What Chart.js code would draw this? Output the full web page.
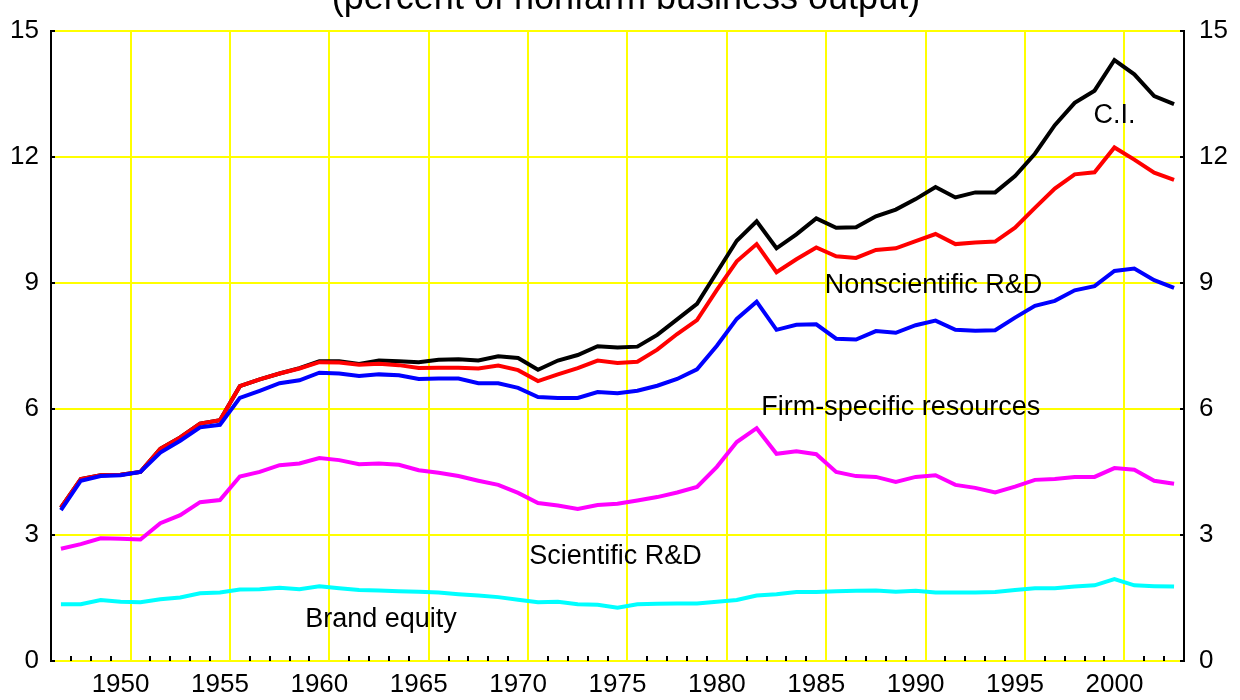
<!DOCTYPE html>
<html>
<head>
<meta charset="utf-8">
<script src="https://cdn.jsdelivr.net/npm/chart.js@4/dist/chart.umd.min.js"></script>
<style>
  body { margin: 0; background: #fff; overflow: hidden; }
  #wrap { position: relative; width: 1240px; height: 700px; overflow: hidden; }
  #title {
    position: absolute; left: 0; top: -21px; width: 1252px;
    text-align: center; font: 36px/36px "Liberation Sans", Arial, sans-serif; color: #000;
  }
</style>
</head>
<body>
<div id="wrap">
  <div id="title">(percent of nonfarm business output)</div>
  <canvas id="chart" width="1240" height="700"></canvas>
</div>
<script>
// 年份 1947-2003
const years = [];
for (let y = 1947; y <= 2003; y++) years.push(y);

// 各层累计值
const brandEquity = [1.35, 1.35, 1.45, 1.41, 1.40, 1.47, 1.51, 1.61, 1.63, 1.70, 1.71, 1.74, 1.71,
  1.78, 1.73, 1.69, 1.68, 1.66, 1.65, 1.63, 1.59, 1.56, 1.52,
  1.46, 1.40, 1.41, 1.35, 1.34, 1.27, 1.35, 1.36, 1.37, 1.37,
  1.41, 1.45, 1.56, 1.59, 1.64, 1.64, 1.66, 1.67, 1.68, 1.65,
  1.67, 1.63, 1.63, 1.63, 1.64, 1.69, 1.73, 1.73, 1.77, 1.80,
  1.95, 1.80, 1.78, 1.77];
const scientificRD = [2.67, 2.78, 2.92, 2.91, 2.89, 3.28, 3.47, 3.78, 3.83, 4.39, 4.50, 4.66, 4.70,
  4.83, 4.78, 4.68, 4.70, 4.67, 4.54, 4.48, 4.40, 4.29, 4.19,
  4.00, 3.76, 3.70, 3.62, 3.71, 3.74, 3.82, 3.90, 4.01, 4.14,
  4.62, 5.21, 5.54, 4.93, 4.99, 4.92, 4.50, 4.40, 4.38, 4.26,
  4.38, 4.42, 4.19, 4.12, 4.01, 4.15, 4.31, 4.33, 4.38, 4.38,
  4.59, 4.55, 4.29, 4.22];
const firmSpecific = [3.59, 4.29, 4.40, 4.42, 4.50, 4.96, 5.24, 5.56, 5.62, 6.26, 6.43, 6.61, 6.68,
  6.86, 6.84, 6.78, 6.82, 6.80, 6.71, 6.72, 6.72, 6.61, 6.61,
  6.50, 6.28, 6.26, 6.26, 6.40, 6.37, 6.43, 6.55, 6.71, 6.94,
  7.50, 8.14, 8.55, 7.88, 8.00, 8.01, 7.67, 7.65, 7.85, 7.81,
  7.99, 8.10, 7.88, 7.86, 7.87, 8.17, 8.45, 8.57, 8.82, 8.92,
  9.28, 9.34, 9.06, 8.88];
const nonscientificRD = [3.65, 4.33, 4.42, 4.43, 4.50, 5.05, 5.32, 5.65, 5.73, 6.54, 6.70, 6.84, 6.96,
  7.11, 7.10, 7.05, 7.07, 7.04, 6.97, 6.98, 6.98, 6.96, 7.03,
  6.92, 6.66, 6.82, 6.97, 7.15, 7.09, 7.12, 7.41, 7.78, 8.11,
  8.83, 9.51, 9.92, 9.25, 9.56, 9.84, 9.63, 9.59, 9.78, 9.82,
  9.99, 10.16, 9.92, 9.96, 9.98, 10.31, 10.78, 11.24, 11.58, 11.63,
  12.22, 11.93, 11.62, 11.45];
const ciTotal = [3.65, 4.33, 4.42, 4.43, 4.50, 5.05, 5.32, 5.65, 5.73, 6.54, 6.70, 6.84, 6.97,
  7.13, 7.13, 7.07, 7.15, 7.13, 7.11, 7.17, 7.18, 7.15, 7.25,
  7.21, 6.93, 7.15, 7.28, 7.49, 7.46, 7.48, 7.76, 8.13, 8.50,
  9.25, 10.00, 10.46, 9.82, 10.15, 10.53, 10.31, 10.32, 10.58, 10.74,
  10.99, 11.28, 11.03, 11.15, 11.15, 11.54, 12.07, 12.75, 13.28, 13.57,
  14.30, 13.96, 13.44, 13.25];

// 坐标轴刻度
const labelYears = [1950, 1955, 1960, 1965, 1970, 1975, 1980, 1985, 1990, 1995, 2000];
const yTicks = [0, 3, 6, 9, 12, 15];

// 图中文字标注
const bandLabels = ['C.I.', 'Nonscientific R&D', 'Firm-specific resources', 'Scientific R&D', 'Brand equity'];
const bandLabelX = [2000.0, 1990.9, 1989.25, 1974.9, 1963.1];
const bandLabelY = [12.79, 8.76, 5.85, 2.30, 0.81];

const YELLOW = '#ffff00';
const FONT = { family: '"Liberation Sans", Arial, sans-serif', size: 26 };

function series(vals) {
  return years.map((yr, i) => ({ x: yr, y: vals[i] }));
}

function lineSet(label, vals, color) {
  return {
    label: label,
    data: series(vals),
    borderColor: color,
    borderWidth: 4,
    borderJoinStyle: 'miter',
    pointRadius: 0,
    tension: 0,
    fill: false,
    xAxisID: 'x',
    yAxisID: 'y'
  };
}

// 内向刻度线和文字标注
const refMarks = {
  id: 'refMarks',
  afterDatasetsDraw(chart) {
    const ctx = chart.ctx;
    const a = chart.chartArea;
    const xs = chart.scales.x;
    const ys = chart.scales.y;
    ctx.save();
    ctx.strokeStyle = '#000';
    ctx.lineWidth = 2;
    ctx.beginPath();
    xs.ticks.forEach(t => {
      if ((t.value - 0.5) % 5 === 0) return;
      const px = Math.round(xs.getPixelForValue(t.value));
      ctx.moveTo(px, a.bottom);
      ctx.lineTo(px, a.bottom - 5);
    });
    yTicks.forEach(v => {
      const py = Math.round(ys.getPixelForValue(v));
      ctx.moveTo(a.left, py);
      ctx.lineTo(a.left + 4, py);
      ctx.moveTo(a.right, py);
      ctx.lineTo(a.right - 4, py);
    });
    ctx.stroke();

    ctx.fillStyle = '#000';
    ctx.font = '27px "Liberation Sans", Arial, sans-serif';
    ctx.textAlign = 'center';
    ctx.textBaseline = 'alphabetic';
    bandLabels.forEach((txt, i) => {
      ctx.fillText(txt, xs.getPixelForValue(bandLabelX[i]), ys.getPixelForValue(bandLabelY[i]));
    });
    ctx.restore();
  }
};

new Chart(document.getElementById('chart'), {
  type: 'line',
  data: {
    datasets: [
      lineSet('Brand equity', brandEquity, '#00ffff'),
      lineSet('Scientific R&D', scientificRD, '#ff00ff'),
      lineSet('Firm-specific resources', firmSpecific, '#0000ff'),
      lineSet('Nonscientific R&D', nonscientificRD, '#ff0000'),
      lineSet('C.I.', ciTotal, '#000000')
    ]
  },
  options: {
    responsive: false,
    animation: false,
    layout: { padding: { top: 21, left: 0, right: 0, bottom: 0 } },
    plugins: {
      legend: { display: false },
      tooltip: { enabled: false },
      title: { display: false }
    },
    scales: {
      x: {
        type: 'linear',
        position: 'bottom',
        min: 1946.5,
        max: 2003.5,
        afterBuildTicks: s => { s.ticks = years.slice(0, -1).map(v => ({ value: v + 0.5 })); },
        afterFit: s => { s.height = 0; },
        grid: {
          color: c => ((c.tick.value - 0.5) % 5 === 0 ? YELLOW : 'rgba(0,0,0,0)'),
          lineWidth: 2,
          drawTicks: false
        },
        border: { display: false },
        ticks: { display: false }
      },
      xl: {
        type: 'linear',
        position: 'bottom',
        min: 1946.5,
        max: 2003.5,
        afterBuildTicks: s => { s.ticks = labelYears.map(v => ({ value: v })); },
        afterFit: s => { s.height = 39; },
        grid: { display: false },
        border: { display: false },
        ticks: {
          font: FONT,
          color: '#000',
          padding: 0,
          autoSkip: false,
          maxRotation: 0,
          callback: v => String(v)
        }
      },
      y: {
        position: 'left',
        min: 0,
        max: 15,
        afterFit: s => { s.width = 51; },
        grid: { color: YELLOW, lineWidth: 2, drawTicks: false },
        border: { color: '#000', width: 2 },
        ticks: { stepSize: 3, font: FONT, color: '#000', padding: 12 }
      },
      y2: {
        position: 'right',
        min: 0,
        max: 15,
        afterFit: s => { s.width = 56; },
        grid: { display: false, drawTicks: false },
        border: { color: '#000', width: 2 },
        ticks: { stepSize: 3, font: FONT, color: '#000', padding: 15 }
      }
    }
  },
  plugins: [refMarks]
});
</script>
</body>
</html>
